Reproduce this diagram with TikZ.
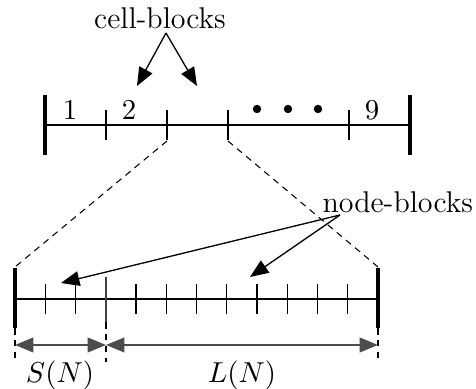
\documentclass[tikz,border=0pt]{standalone}
\usepackage{amsmath,amssymb}
\usetikzlibrary{arrows.meta}

\begin{document}
\begin{tikzpicture}[x=0.38pt,y=0.38pt,>={Triangle[length=7pt,width=5.6pt]},line cap=butt,
  font=\fontsize{11.4pt}{13pt}\selectfont,
  bigtick/.style={line width=1.3pt},
  smalltick/.style={line width=0.8pt},
  guide/.style={dash pattern=on 2.5pt off 2pt,line width=0.4pt},
  pointer/.style={->,line width=0.5pt}]
\useasboundingbox (0,0) rectangle (476,389);
% top row of cell-blocks
\draw[line width=0.5pt] (45,264) -- (410,264);
\draw[bigtick] (45,234) -- (45,294);
\draw[bigtick] (410,234) -- (410,294);
\foreach \x in {106,167,228,349}
  \draw[smalltick] (\x,249) -- (\x,279);
\node (c1) at (70,279) {$1$};
\node (c2) at (129,279) {$2$};
\node (c9) at (372,279) {$9$};
\foreach \x in {257,288,318}
  \fill (\x,280) circle (1.6pt);
% zoom lines
\draw[guide] (167,248) -- (15,122);
\draw[guide] (228,248) -- (378,122);
% bottom row of node-blocks
\draw[line width=0.5pt] (15,90) -- (378,90);
\draw[bigtick] (15,61) -- (15,121);
\draw[bigtick] (378,61) -- (378,121);
\foreach \i in {1,2,4,5,6,7,8,9,10,11}
  \draw[line width=0.4pt] ({15+30.25*\i},75) -- ({15+30.25*\i},105);
\draw[line width=0.8pt,black!75] (106,67) -- (106,112);
\draw[guide] (15,61) -- (15,27);
\draw[guide] (106,67) -- (106,27);
\draw[guide] (378,61) -- (378,27);
% dimensions
\coordinate (sl) at (15,44);
\coordinate (sm) at (106,44);
\coordinate (sr) at (378,44);
\draw[<->,line width=0.7pt,black!70] (sl) -- (sm);
\draw[<->,line width=0.7pt,black!70] (sm) -- (sr);
\node (sn) at (60,14) {$S(N)$};
\node (ln) at (242,14) {$L(N)$};
% labels with pointers
\node (cell) at (160,371) {cell-blocks};
\coordinate (cellfrom) at (166,356);
\coordinate (cella) at (137,303);
\coordinate (cellb) at (197,303);
\draw[pointer] (cellfrom) -- (cella);
\draw[pointer] (cellfrom) -- (cellb);
\node[anchor=east,inner sep=1pt] (nodeb) at (476,187) {node-blocks};
\coordinate (nodefrom) at (340,174);
\coordinate (nodea) at (61,106);
\coordinate (nodeb2) at (250,112);
\draw[pointer] (nodefrom) -- (nodea);
\draw[pointer] (nodefrom) -- (nodeb2);
\end{tikzpicture}
\end{document}
